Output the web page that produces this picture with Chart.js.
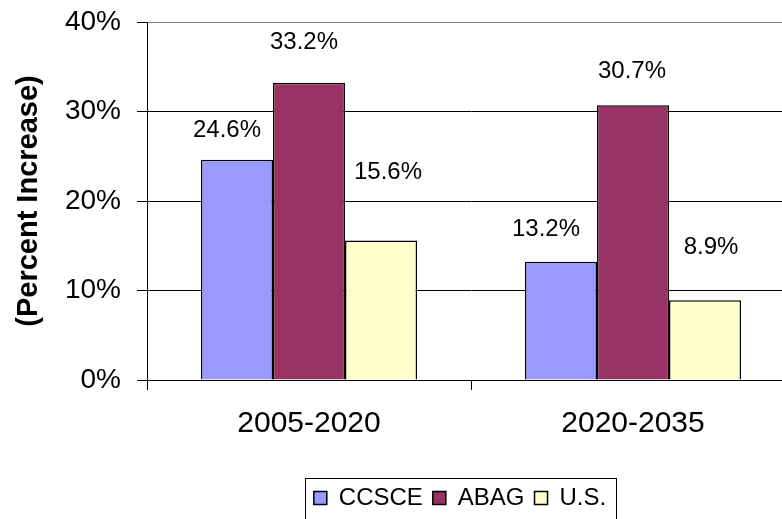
<!DOCTYPE html>
<html>
<head>
<meta charset="utf-8">
<script src="https://cdn.jsdelivr.net/npm/chart.js@4.4.0/dist/chart.umd.min.js"></script>
<style>
  html, body { margin: 0; padding: 0; overflow: hidden; background: #fff; }
  canvas { display: block; }
</style>
</head>
<body>
<canvas id="chart" width="800" height="524"></canvas>
<script>
const categories = ['2005-2020', '2020-2035'];
const seriesNames = ['CCSCE', 'ABAG', 'U.S.'];
const ccsce = [24.6, 13.2];
const abag = [33.2, 30.7];
const us = [15.6, 8.9];
const yTicks = [0, 10, 20, 30, 40];

const colors = ['#9999ff', '#993366', '#ffffcc'];
// Excel labels were dragged around by hand: [dx, dy] from the bar top centre
const labelNudge = [
  [[-10, 29], [-15, 32]],
  [[-5, 40], [-1, 34]],
  [[7, 68], [6, 53]]
];

Chart.defaults.font.family = '"Liberation Sans", Arial, sans-serif';
Chart.defaults.color = '#000';

const barLabels = {
  id: 'barLabels',
  afterDatasetsDraw(chart) {
    const ctx = chart.ctx;
    ctx.save();
    ctx.font = '24px "Liberation Sans", Arial, sans-serif';
    ctx.fillStyle = '#000';
    ctx.textAlign = 'center';
    ctx.textBaseline = 'middle';
    chart.data.datasets.forEach((ds, i) => {
      chart.getDatasetMeta(i).data.forEach((bar, j) => {
        const [dx, dy] = labelNudge[i][j];
        ctx.fillText(ds.data[j].toFixed(1) + '%', bar.x + dx, bar.y - dy);
      });
    });
    ctx.restore();
  }
};

// legend sits a bit left of the plot centre and has a plain black frame
const legendFrame = {
  id: 'legendFrame',
  afterLayout(chart) {
    chart.legend.left -= 11;
    chart.legend.right -= 11;
  },
  afterDraw(chart) {
    const lg = chart.legend;
    const boxes = lg.legendHitBoxes;
    if (!boxes.length) return;
    const first = boxes[0], last = boxes[boxes.length - 1];
    const ctx = chart.ctx;
    ctx.save();
    ctx.strokeStyle = '#000';
    ctx.lineWidth = 1;
    const l = Math.round(first.left - 9) + 0.5;
    const r = Math.round(last.left + last.width + 10) + 0.5;
    const t = Math.round(lg.top + 2) + 0.5;
    ctx.strokeRect(l, t, r - l, lg.bottom + 10 - t);
    ctx.restore();
  }
};

const datasets = [ccsce, abag, us].map((vals, i) => ({
  label: seriesNames[i],
  data: vals,
  backgroundColor: colors[i],
  borderColor: '#000',
  borderWidth: 1.5,
  categoryPercentage: 0.667,
  barPercentage: 1.0
}));

new Chart(document.getElementById('chart'), {
  type: 'bar',
  data: { labels: categories, datasets: datasets },
  options: {
    responsive: false,
    animation: false,
    devicePixelRatio: 1,
    layout: { padding: { top: 22, right: 5, bottom: 4, left: 0 } },
    plugins: {
      legend: {
        position: 'bottom',
        fullSize: false,
        labels: { font: { size: 24 }, boxWidth: 13, boxHeight: 13, padding: 10, color: '#000' }
      },
      tooltip: { enabled: false },
      title: { display: false }
    },
    scales: {
      x: {
        afterFit: s => { s.height = 96; },
        border: { color: '#000', width: 1 },
        grid: { offset: true, drawOnChartArea: false, tickLength: 10, color: '#000' },
        ticks: { padding: 16, font: { size: 30 } }
      },
      y: {
        min: 0,
        max: 40,
        afterBuildTicks: s => { s.ticks = yTicks.map(v => ({ value: v })); },
        afterFit: s => { s.width = 147; s.paddingTop = 0; s.paddingBottom = 0; },
        border: { color: '#000', width: 1 },
        grid: {
          color: c => (c.tick && c.tick.value === 40) ? '#808080' : '#000',
          tickColor: '#000',
          tickLength: 10
        },
        ticks: { padding: 16, font: { size: 28 }, callback: v => v + '%' },
        title: {
          display: true,
          text: '(Percent Increase)',
          font: { size: 29, weight: 'bold' },
          padding: { top: 12, bottom: 0 }
        }
      }
    }
  },
  plugins: [barLabels, legendFrame]
});
</script>
</body>
</html>
